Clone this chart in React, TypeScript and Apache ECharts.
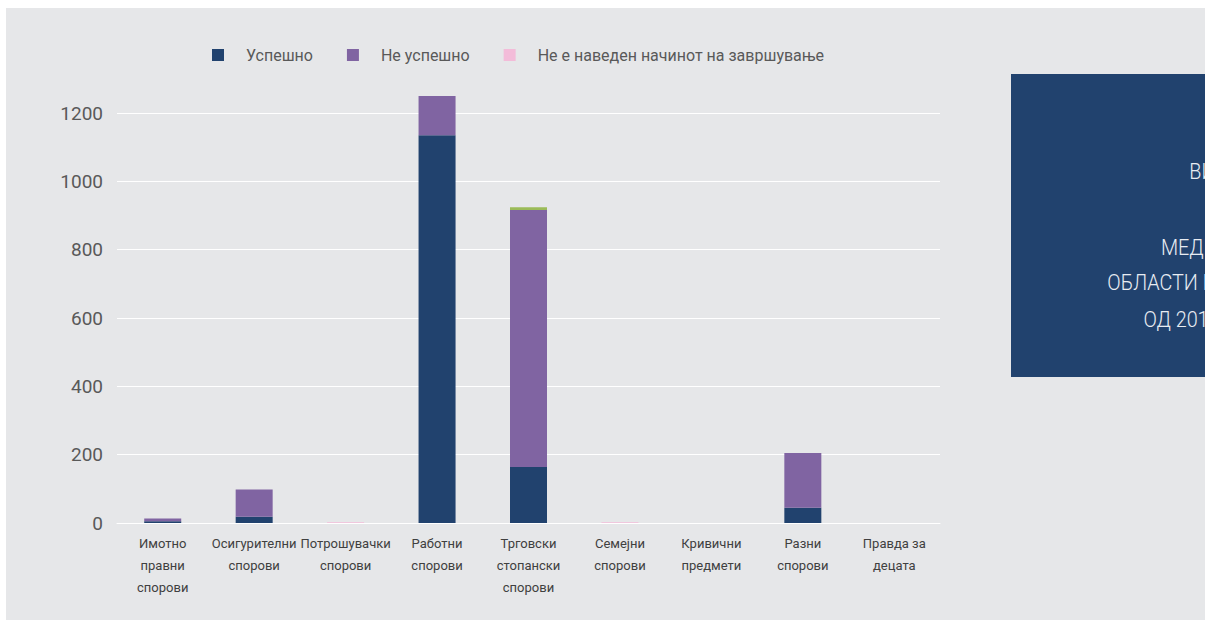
import React, { useEffect, useRef } from "react";
import * as echarts from "echarts";

const categories = [
  "Имотно\nправни\nспорови",
  "Осигурителни\nспорови",
  "Потрошувачки\nспорови",
  "Работни\nспорови",
  "Трговски\nстопански\nспорови",
  "Семејни\nспорови",
  "Кривични\nпредмети",
  "Разни\nспорови",
  "Правда за\nдецата",
];
const uspeshno = [5, 18, 0, 1135, 164, 0, 0, 45, 0];
const neUspeshno = [8, 80, 0, 115, 752, 0, 0, 160, 0];
const neNaveden = [0, 0, 2, 0, 0, 2, 0, 0, 0];
const drugo = [0, 0, 0, 0, 8, 0, 0, 0, 0];
const yTicks = { min: 0, max: 1200, interval: 200 };
const boxLines = ["ВИДОТ", "МЕДИЈАЦИИ", "ОБЛАСТИ ВО ПЕРИОДОТ", "ОД 2016 ДО 2020"];

const FONT = "Roboto, 'Noto Sans', sans-serif";

export default function App() {
  const ref = useRef<HTMLDivElement>(null);
  useEffect(() => {
    const chart = echarts.init(ref.current!, null, { renderer: "svg" });
    const mk = (name: string, data: number[], color: string) => ({
      name,
      type: "bar",
      stack: "total",
      data,
      barWidth: 37,
      clip: false,
      itemStyle: { color },
    });
    chart.setOption({
      animation: false,
      backgroundColor: "#ffffff",
      graphic: [
        { type: "rect", z: -10, shape: { x: 6, y: 8, width: 1199, height: 612 }, style: { fill: "#e6e7e9" } },
        { type: "rect", z: 10, shape: { x: 1011, y: 74, width: 260, height: 303 }, style: { fill: "#21426e" } },
        ...boxLines.map((t, i) => ({
          type: "text",
          z: 11,
          x: 1222,
          y: [172, 248, 283, 320][i],
          scaleX: 0.9,
          originX: 0,
          style: {
            text: t,
            fill: "#e8ecf2",
            font: `300 22px ${FONT}`,
            textAlign: "center",
            textVerticalAlign: "middle",
          },
        })),
      ],
      legend: {
        top: 42,
        left: 207,
        data: ["Успешно", "Не успешно", "Не е наведен начинот на завршување"],
        icon: "rect",
        itemWidth: 12,
        itemHeight: 12,
        itemGap: 34,
        textStyle: { fontFamily: FONT, fontSize: 16, color: "#595959", padding: [0, 0, 0, 17] },
      },
      grid: { left: 117, right: 265, top: 113, bottom: 98, containLabel: false },
      xAxis: {
        type: "category",
        data: categories,
        axisLine: { show: true, lineStyle: { color: "#ffffff", width: 1 } },
        axisTick: { show: false },
        axisLabel: {
          interval: 0,
          fontFamily: FONT,
          fontSize: 13,
          lineHeight: 22,
          color: "#404040",
          margin: 9,
        },
      },
      yAxis: {
        type: "value",
        min: yTicks.min,
        max: yTicks.max,
        interval: yTicks.interval,
        axisLine: { show: false },
        axisTick: { show: false },
        splitLine: { lineStyle: { color: "#ffffff", width: 1 } },
        axisLabel: {
          fontFamily: FONT,
          fontSize: 19,
          color: "#595959",
          margin: 14,
          formatter: (v: number) => String(v),
        },
      },
      series: [
        mk("Успешно", uspeshno, "#21426e"),
        mk("Не успешно", neUspeshno, "#8064a2"),
        mk("Не е наведен начинот на завршување", neNaveden, "#f3bcd9"),
        mk("Друго", drugo, "#9bbb59"),
      ],
    });
    return () => chart.dispose();
  }, []);
  return (
    <div
      ref={ref}
      style={{ position: "absolute", left: 0, top: 0, width: 1205, height: 621 }}
    />
  );
}
